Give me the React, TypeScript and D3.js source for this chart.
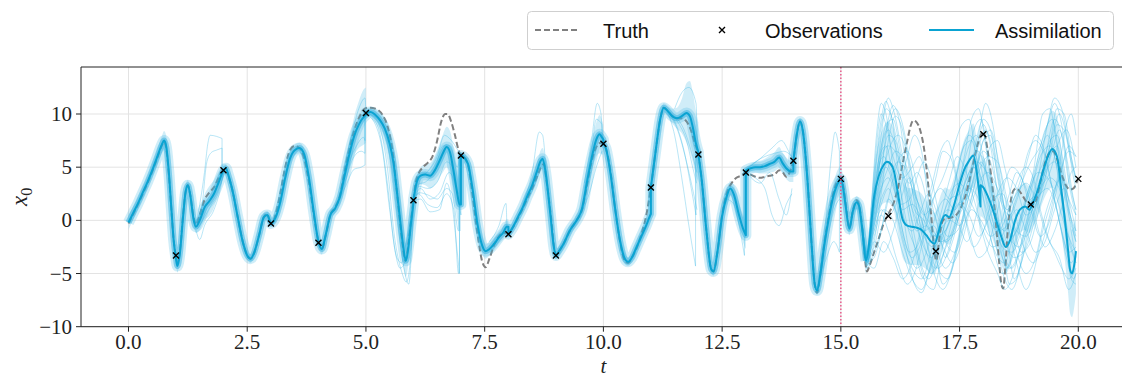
import React from 'react';
import * as d3 from 'd3';

type P2 = [number, number];
type P3 = [number, number, number];

const X_TICKS = [0, 2.5, 5, 7.5, 10, 12.5, 15, 17.5, 20];
const Y_TICKS = [-10, -5, 0, 5, 10];
const OBS_TIMES = [1, 2, 3, 4, 5, 6, 7, 8, 9, 10, 11, 12, 13, 14, 15, 16, 17, 18, 19, 20];
const OBS_VALUES = [-3.3, 4.7, -0.3, -2.1, 10.1, 1.9, 6.1, -1.3, -3.3, 7.2, 3.1, 6.2, 4.5, 5.6, 3.9, 0.4, -2.9, 8.1, 1.5, 3.9];
const FORECAST_START = 15;

const TRUTH: P2[] = [
  [0, -0.3], [0.1, 0.6], [0.2, 1.5], [0.3, 2.5], [0.4, 3.5], [0.5, 4.6], [0.6, 5.8], [0.7, 7.0], [0.75, 7.4], [0.8, 6.6],
  [0.85, 4.3], [0.9, 1.2], [0.95, -1.8], [1.0, -3.4], [1.03, -4.0], [1.08, -3.0], [1.15, 0.5], [1.2, 2.6], [1.25, 3.3], [1.3, 2.4],
  [1.37, 0.3], [1.42, -0.4], [1.5, 0.5], [1.6, 1.9], [1.7, 2.6], [1.8, 3.1], [1.9, 4.0], [2.0, 4.8], [2.05, 4.8], [2.1, 4.2],
  [2.2, 2.6], [2.3, 0.3], [2.4, -1.9], [2.5, -3.3], [2.57, -3.6], [2.65, -3.0], [2.75, -1.4], [2.85, 0.3], [2.92, 0.6], [2.98, 0.0],
  [3.05, 0.0], [3.1, 0.6], [3.2, 2.6], [3.3, 5.0], [3.4, 6.6], [3.5, 7.0], [3.6, 6.8], [3.7, 5.8], [3.8, 3.6], [3.9, 0.6],
  [4.0, -2.0], [4.07, -2.7], [4.15, -1.5], [4.25, 0.5], [4.35, 1.2], [4.45, 2.3], [4.55, 4.6], [4.65, 6.7], [4.75, 8.4], [4.85, 9.6],
  [4.95, 10.4], [5.05, 10.6], [5.2, 10.5], [5.35, 9.9], [5.45, 8.9], [5.55, 6.8], [5.65, 2.8], [5.75, -1.5], [5.83, -3.8], [5.9, -2.0],
  [5.95, 0.0], [6.0, 1.9], [6.05, 3.6], [6.1, 4.3], [6.2, 5.0], [6.3, 5.4], [6.4, 6.0], [6.5, 7.5], [6.58, 9.2], [6.67, 10.0],
  [6.72, 10.0], [6.8, 9.2], [6.88, 7.9], [6.95, 6.6], [7.0, 6.1], [7.05, 6.0], [7.15, 5.2], [7.25, 2.2], [7.35, -1.3], [7.45, -3.9],
  [7.52, -4.4], [7.6, -3.6], [7.7, -2.3], [7.8, -1.5], [7.9, -1.2], [8.0, -1.2], [8.1, -0.6], [8.2, 0.2], [8.3, 1.1], [8.4, 2.1],
  [8.5, 3.0], [8.6, 4.1], [8.7, 5.1], [8.75, 5.3], [8.8, 3.8], [8.9, 0.2], [8.97, -2.8], [9.0, -3.3], [9.05, -3.0], [9.15, -2.3],
  [9.3, -0.9], [9.45, 0.1], [9.55, 1.0], [9.65, 3.2], [9.75, 5.5], [9.85, 6.9], [9.95, 7.3], [10.0, 7.2], [10.05, 6.8], [10.15, 4.6],
  [10.25, 1.0], [10.35, -2.0], [10.45, -3.8], [10.52, -4.0], [10.6, -3.5], [10.7, -2.6], [10.8, -1.3], [10.9, 0.4], [11.0, 3.1], [11.1, 6.5],
  [11.2, 9.6], [11.27, 10.6], [11.35, 10.3], [11.45, 9.8], [11.55, 9.6], [11.65, 9.6], [11.75, 9.3], [11.85, 8.4], [11.93, 7.2], [12.0, 6.2],
  [12.07, 3.8], [12.17, -1.0], [12.27, -4.6], [12.32, -4.8], [12.4, -3.0], [12.5, 0.5], [12.6, 2.6], [12.7, 3.5], [12.8, 4.0], [12.9, 4.2],
  [13.0, 4.5], [13.1, 4.3], [13.2, 4.1], [13.3, 4.0], [13.4, 4.1], [13.5, 4.2], [13.6, 4.3], [13.7, 4.7], [13.78, 4.5], [13.85, 4.1],
  [13.93, 4.6], [14.0, 5.6], [14.07, 8.0], [14.14, 9.3], [14.2, 8.4], [14.3, 3.6], [14.38, -2.0], [14.45, -6.0], [14.5, -6.8], [14.57, -5.0],
  [14.65, -2.2], [14.75, 0.5], [14.85, 2.7], [14.95, 3.8], [15.0, 3.9], [15.05, 3.2], [15.1, 1.6], [15.18, -0.7], [15.25, 0.8], [15.33, 1.9],
  [15.38, 1.5], [15.45, -0.7], [15.5, -3.2], [15.55, -4.8], [15.6, -4.3], [15.7, -3.0], [15.8, -1.7], [15.9, -0.3], [16.0, 0.6], [16.1, 1.5],
  [16.2, 3.0], [16.3, 5.3], [16.4, 7.5], [16.47, 8.9], [16.53, 9.4], [16.6, 9.2], [16.67, 8.5], [16.75, 6.8], [16.83, 3.8], [16.9, 0.5],
  [16.96, -2.5], [17.01, -3.8], [17.05, -2.6], [17.1, -0.8], [17.17, 0.1], [17.25, 0.2], [17.35, 0.3], [17.45, 0.6], [17.55, 1.4], [17.65, 2.7],
  [17.75, 4.6], [17.85, 6.6], [17.93, 7.9], [18.0, 8.3], [18.05, 7.6], [18.12, 5.7], [18.2, 2.8], [18.27, -0.5], [18.33, -3.8], [18.38, -6.0],
  [18.42, -6.4], [18.46, -4.6], [18.52, -0.6], [18.58, 1.9], [18.65, 2.9], [18.7, 3.0], [18.8, 2.5], [18.9, 1.8], [19.0, 1.4], [19.1, 1.8],
  [19.2, 3.6], [19.3, 5.4], [19.4, 6.4], [19.47, 6.5], [19.55, 5.8], [19.65, 4.3], [19.75, 3.2], [19.82, 2.9], [19.9, 3.0], [19.95, 3.4],
  [20.0, 4.0],
];

// [t, ensemble mean, ensemble spread]; a repeated t marks an analysis update
const ASSIMILATION: P3[] = [
  [0, -0.2, 0.7], [0.1, 0.7, 0.6], [0.2, 1.6, 0.5], [0.3, 2.6, 0.5], [0.4, 3.6, 0.5], [0.5, 4.7, 0.5], [0.6, 5.9, 0.6], [0.7, 7.1, 0.8],
  [0.75, 7.5, 0.9], [0.8, 6.8, 1.0], [0.85, 4.5, 1.0], [0.9, 1.3, 0.9], [0.95, -1.8, 0.8], [1.0, -3.6, 0.7], [1.03, -4.3, 0.6], [1.08, -3.2, 0.5],
  [1.15, 0.4, 0.6], [1.2, 2.6, 0.6], [1.25, 3.3, 0.5], [1.3, 2.4, 0.5], [1.37, 0.1, 0.5], [1.42, -0.6, 0.6], [1.5, 0.0, 0.9], [1.6, 1.2, 1.2],
  [1.7, 1.8, 1.4], [1.8, 2.5, 1.3], [1.9, 3.6, 1.0], [2.0, 4.7, 0.6], [2.05, 4.9, 0.4], [2.1, 4.3, 0.4], [2.2, 2.6, 0.4], [2.3, 0.3, 0.4],
  [2.4, -1.9, 0.4], [2.5, -3.3, 0.4], [2.57, -3.6, 0.4], [2.65, -3.0, 0.4], [2.75, -1.4, 0.4], [2.85, 0.3, 0.4], [2.92, 0.5, 0.4], [2.98, -0.1, 0.4],
  [3.0, -0.3, 0.3], [3.1, 0.3, 0.4], [3.2, 1.8, 0.5], [3.3, 4.0, 0.6], [3.4, 5.8, 0.5], [3.5, 6.6, 0.5], [3.6, 6.8, 0.5], [3.7, 6.2, 0.5],
  [3.8, 4.0, 0.6], [3.9, 0.8, 0.6], [4.0, -2.0, 0.5], [4.07, -2.7, 0.5], [4.15, -1.4, 0.4], [4.25, 0.5, 0.4], [4.35, 1.1, 0.4], [4.45, 2.2, 0.6],
  [4.55, 4.2, 0.9], [4.65, 6.2, 1.3], [4.75, 7.9, 1.8], [4.85, 9.0, 2.2], [4.95, 9.7, 2.6], [5.0, 9.9, 2.6], [5.0, 10.1, 0.4], [5.1, 10.2, 0.4],
  [5.2, 9.9, 0.5], [5.3, 9.4, 0.7], [5.4, 8.6, 1.0], [5.5, 7.2, 1.4], [5.58, 5.4, 1.8], [5.65, 2.8, 2.0], [5.72, 0.0, 2.0], [5.78, -2.3, 1.8],
  [5.84, -3.8, 1.5], [5.9, -2.3, 1.5], [5.95, -0.2, 1.4], [6.0, 1.6, 1.2], [6.0, 1.9, 0.4], [6.07, 3.6, 0.6], [6.15, 4.2, 0.8], [6.25, 4.3, 1.0],
  [6.35, 4.2, 1.2], [6.45, 4.7, 1.4], [6.55, 5.6, 1.6], [6.63, 6.4, 1.8], [6.7, 6.9, 1.9], [6.77, 6.4, 2.0], [6.85, 4.5, 2.2], [6.92, 2.6, 2.4],
  [6.97, 1.5, 2.5], [7.0, 1.5, 2.5], [7.0, 6.1, 0.3], [7.05, 6.0, 0.3], [7.15, 5.3, 0.4], [7.25, 2.8, 0.6], [7.35, -0.4, 0.8], [7.45, -2.4, 0.8],
  [7.52, -2.9, 0.7], [7.6, -2.7, 0.6], [7.7, -2.2, 0.6], [7.8, -1.6, 0.6], [7.9, -1.1, 0.6], [7.96, -0.6, 0.7], [8.0, -0.6, 0.7], [8.0, -1.3, 0.3],
  [8.1, -0.6, 0.3], [8.2, 0.3, 0.3], [8.3, 1.2, 0.4], [8.4, 2.3, 0.5], [8.5, 3.3, 0.6], [8.6, 4.6, 0.8], [8.68, 5.6, 1.0], [8.72, 5.8, 1.0],
  [8.78, 4.6, 1.0], [8.88, 0.7, 0.8], [8.96, -2.6, 0.5], [9.0, -3.3, 0.4], [9.05, -3.0, 0.4], [9.15, -2.3, 0.4], [9.3, -0.9, 0.4], [9.45, 0.1, 0.4],
  [9.55, 1.1, 0.6], [9.65, 3.5, 0.9], [9.75, 5.8, 1.3], [9.85, 7.6, 1.6], [9.92, 8.1, 1.8], [9.97, 7.8, 1.6], [10.0, 7.6, 1.4], [10.0, 7.2, 0.3],
  [10.05, 6.8, 0.3], [10.15, 4.4, 0.4], [10.25, 1.0, 0.5], [10.35, -1.9, 0.5], [10.45, -3.6, 0.5], [10.52, -3.9, 0.4], [10.6, -3.5, 0.4], [10.7, -2.5, 0.4],
  [10.8, -1.5, 0.4], [10.9, -0.5, 0.4], [10.97, 0.3, 0.4], [11.0, 0.6, 0.4], [11.0, 3.1, 0.3], [11.1, 6.5, 0.4], [11.2, 9.6, 0.4], [11.27, 10.6, 0.4],
  [11.35, 10.3, 0.5], [11.45, 9.8, 0.7], [11.55, 9.6, 1.0], [11.65, 9.8, 1.6], [11.75, 10.1, 2.8], [11.82, 9.8, 3.3], [11.88, 8.8, 3.3], [11.95, 7.2, 3.0],
  [12.0, 6.4, 2.8], [12.0, 6.2, 0.4], [12.07, 3.8, 0.5], [12.17, -1.0, 0.5], [12.27, -4.6, 0.4], [12.32, -4.8, 0.4], [12.4, -3.0, 0.4], [12.5, 0.4, 0.5],
  [12.6, 2.3, 0.6], [12.67, 3.0, 0.7], [12.75, 2.4, 0.9], [12.85, 0.6, 1.1], [12.95, -0.9, 1.3], [13.0, -1.4, 1.3], [13.0, 4.7, 0.3], [13.1, 4.9, 0.4],
  [13.2, 5.0, 0.5], [13.3, 5.0, 0.6], [13.4, 5.1, 0.7], [13.5, 5.3, 0.8], [13.6, 5.5, 0.9], [13.7, 5.9, 1.0], [13.77, 5.4, 1.0], [13.85, 4.9, 1.0],
  [13.95, 4.6, 1.0], [14.0, 4.6, 1.0], [14.0, 5.6, 0.3], [14.07, 8.0, 0.3], [14.14, 9.3, 0.3], [14.2, 8.4, 0.3], [14.3, 3.6, 0.3], [14.38, -2.0, 0.3],
  [14.45, -6.0, 0.3], [14.5, -6.6, 0.4], [14.57, -5.0, 0.6], [14.65, -2.4, 0.8], [14.75, 0.3, 1.0], [14.85, 2.4, 1.2], [14.95, 3.6, 1.3], [15.0, 3.9, 1.2],
  [15.05, 3.0, 1.0], [15.1, 1.4, 0.8], [15.18, -0.8, 0.6], [15.25, 0.8, 0.6], [15.33, 1.7, 0.6], [15.38, 1.4, 0.7], [15.45, -0.8, 0.9], [15.53, -3.8, 1.2],
  [15.6, -2.0, 1.8], [15.7, 2.2, 2.6], [15.8, 4.2, 3.2], [15.9, 5.2, 3.6], [15.97, 5.5, 3.8], [16.05, 5.3, 3.8], [16.12, 4.6, 3.8], [16.2, 2.6, 3.7],
  [16.3, 0.1, 3.6], [16.4, -0.5, 3.6], [16.5, -0.6, 3.6], [16.6, -0.7, 3.5], [16.7, -0.9, 3.4], [16.8, -1.4, 3.2], [16.9, -2.0, 3.0], [16.97, -2.2, 2.9],
  [17.05, -1.2, 2.8], [17.12, -0.1, 2.7], [17.2, 0.5, 2.6], [17.28, 0.3, 2.6], [17.38, 1.4, 2.6], [17.5, 3.4, 2.7], [17.6, 4.8, 2.8], [17.7, 5.6, 2.9],
  [17.79, 6.1, 3.0], [17.86, 4.6, 3.0], [17.94, 1.3, 3.0], [17.94, 3.3, 2.9], [18.0, 3.1, 2.9], [18.1, 2.2, 2.8], [18.2, 1.0, 2.8], [18.3, -0.4, 2.7],
  [18.39, -1.7, 2.6], [18.47, -2.5, 2.5], [18.56, -1.9, 2.4], [18.67, 0.0, 2.3], [18.77, 1.0, 2.2], [18.88, 1.3, 2.2], [18.97, 1.0, 2.2], [19.05, 1.7, 2.3],
  [19.15, 2.9, 2.5], [19.25, 4.5, 2.8], [19.35, 5.9, 3.2], [19.45, 6.7, 3.6], [19.55, 6.0, 3.8], [19.65, 2.6, 3.9], [19.72, 0.0, 3.9], [19.78, -2.6, 4.0],
  [19.83, -4.7, 4.1], [19.87, -5.0, 4.1], [19.91, -4.3, 4.0], [19.95, -2.9, 4.0],
];

// free-running ensemble members after the last analysis
const MEMBERS: P2[][] = [
  [[15.45, -0.5], [15.55, -3.5], [15.7, 1.5], [15.85, 8.0], [15.95, 10.5], [16.05, 10.0], [16.2, 5.0], [16.4, -2.0], [16.6, -4.5], [16.8, -3.0], [17.0, 0.5], [17.2, 2.0], [17.4, 1.0], [17.6, 3.5], [17.8, 8.5], [17.95, 9.5], [18.1, 6.0], [18.3, -1.0], [18.5, -4.5], [18.7, -2.0], [18.9, 2.0], [19.1, 5.0], [19.3, 8.5], [19.45, 9.5], [19.6, 6.0], [19.8, 1.0], [19.95, -1.0]],
  [[15.45, -1.0], [15.55, -4.2], [15.7, -2.0], [15.85, 2.5], [16.0, 7.5], [16.15, 9.8], [16.3, 8.5], [16.5, 3.0], [16.7, -2.5], [16.9, -5.0], [17.05, -4.0], [17.25, -0.5], [17.45, 1.5], [17.65, 2.0], [17.85, 4.5], [18.0, 7.5], [18.15, 8.0], [18.3, 4.0], [18.5, -1.5], [18.65, -5.5], [18.8, -4.0], [19.0, 0.5], [19.2, 3.0], [19.4, 4.5], [19.6, 7.5], [19.75, 8.5], [19.95, 5.0]],
  [[15.45, -0.8], [15.55, -3.8], [15.7, -4.5], [15.9, -2.0], [16.1, -3.5], [16.3, -5.5], [16.5, -4.0], [16.7, -0.5], [16.9, 3.0], [17.1, 6.5], [17.25, 7.5], [17.4, 5.0], [17.6, 0.5], [17.8, -2.5], [18.0, -1.0], [18.2, 2.0], [18.4, 2.5], [18.6, 0.0], [18.8, -3.0], [19.0, -2.0], [19.2, 1.5], [19.4, 4.0], [19.6, 3.0], [19.8, -1.5], [19.95, -4.0]],
  [[15.45, -0.6], [15.55, -3.2], [15.7, 0.5], [15.85, 5.0], [16.0, 8.0], [16.15, 7.5], [16.3, 4.5], [16.45, 3.5], [16.6, 4.5], [16.75, 3.0], [16.9, -1.0], [17.1, -5.0], [17.25, -5.5], [17.45, -2.5], [17.65, 2.0], [17.85, 6.5], [18.0, 9.0], [18.15, 7.0], [18.35, 1.0], [18.5, -2.0], [18.7, -1.0], [18.85, 1.5], [19.05, 4.5], [19.25, 10.0], [19.4, 10.5], [19.55, 7.0], [19.75, 1.5], [19.95, -2.0]],
  [[15.45, -0.9], [15.55, -4.0], [15.7, -0.5], [15.85, 3.5], [16.0, 5.5], [16.2, 4.0], [16.4, -0.5], [16.6, -3.0], [16.8, -6.0], [16.95, -6.5], [17.1, -4.0], [17.3, -1.5], [17.5, 1.0], [17.7, 4.0], [17.85, 5.5], [18.0, 5.0], [18.2, 3.0], [18.4, -2.0], [18.55, -6.0], [18.7, -5.5], [18.9, -1.0], [19.1, 3.5], [19.3, 6.0], [19.5, 9.5], [19.65, 8.0], [19.8, 3.5], [19.95, 0.5]],
  [[15.45, -0.7], [15.55, -3.6], [15.7, 2.5], [15.85, 7.0], [16.0, 9.0], [16.15, 10.5], [16.3, 9.0], [16.45, 5.5], [16.6, 2.0], [16.75, 0.5], [16.9, 1.0], [17.05, -0.5], [17.2, -3.5], [17.35, -2.0], [17.55, 1.5], [17.7, 3.0], [17.9, 2.0], [18.05, 0.0], [18.25, -3.0], [18.45, -4.0], [18.6, -2.0], [18.8, 0.5], [19.0, 3.0], [19.2, 6.5], [19.35, 8.0], [19.5, 6.0], [19.7, 0.0], [19.85, -5.5], [19.95, -6.0]],
  [[15.45, -0.4], [15.55, -3.0], [15.7, -1.0], [15.85, 1.0], [16.0, 0.5], [16.2, 2.0], [16.4, 6.0], [16.55, 8.0], [16.7, 6.5], [16.85, 1.5], [17.0, -3.0], [17.15, -6.0], [17.3, -5.0], [17.5, -1.0], [17.7, 3.5], [17.85, 7.5], [18.0, 9.5], [18.15, 8.5], [18.35, 3.5], [18.5, 0.0], [18.7, -4.0], [18.9, -6.5], [19.05, -5.0], [19.25, -1.0], [19.45, 2.0], [19.65, 5.0], [19.8, 7.0], [19.95, 6.0]],
  [[15.45, -1.1], [15.55, -4.5], [15.7, -3.0], [15.9, 0.0], [16.05, 3.0], [16.25, 6.0], [16.4, 6.5], [16.6, 3.5], [16.8, 0.0], [17.0, -1.5], [17.2, -1.0], [17.4, 1.5], [17.6, 6.0], [17.75, 9.5], [17.9, 10.5], [18.05, 7.0], [18.25, 0.5], [18.45, -3.5], [18.6, -4.5], [18.8, -2.5], [19.0, 0.0], [19.15, 2.0], [19.35, 3.0], [19.55, 1.0], [19.75, -3.5], [19.9, -5.5], [19.95, -5.0]],
  [[15.45, -0.5], [15.55, -3.4], [15.7, 1.0], [15.85, 6.0], [16.0, 7.0], [16.2, 6.0], [16.35, 2.5], [16.55, -2.5], [16.75, -5.5], [16.9, -4.5], [17.1, -1.0], [17.3, 0.0], [17.5, -0.5], [17.7, 1.5], [17.9, 4.5], [18.1, 6.0], [18.3, 5.5], [18.5, 2.0], [18.7, -1.0], [18.9, -1.5], [19.1, 1.0], [19.3, 5.0], [19.45, 8.0], [19.6, 10.0], [19.75, 8.0], [19.9, 4.0], [19.95, 3.0]],
  [[15.45, -0.8], [15.55, -3.9], [15.7, -1.5], [15.85, 0.5], [16.0, -1.0], [16.2, -4.0], [16.4, -6.0], [16.55, -5.0], [16.75, -1.5], [16.95, 2.0], [17.15, 4.0], [17.35, 6.5], [17.55, 9.0], [17.7, 9.5], [17.85, 6.0], [18.0, 2.0], [18.2, -2.5], [18.4, -5.0], [18.55, -4.0], [18.75, -0.5], [18.95, 2.5], [19.15, 4.5], [19.35, 4.0], [19.55, 2.0], [19.75, -1.0], [19.95, -3.0]],
  [[15.45, -0.6], [15.55, -3.3], [15.7, 0.0], [15.85, 3.0], [16.0, 4.0], [16.15, 2.5], [16.3, 1.0], [16.5, 1.5], [16.7, 0.0], [16.9, -3.5], [17.05, -4.5], [17.25, -3.0], [17.45, 0.5], [17.65, 4.0], [17.8, 5.0], [17.95, 3.0], [18.1, 0.5], [18.3, -1.0], [18.5, 0.5], [18.7, 3.5], [18.9, 5.0], [19.05, 4.0], [19.2, 1.0], [19.4, -2.0], [19.6, -3.5], [19.8, -6.5], [19.95, -5.0]],
  [[15.45, -1.0], [15.55, -4.1], [15.7, 0.5], [15.85, 4.5], [16.0, 9.5], [16.1, 10.8], [16.25, 9.0], [16.4, 4.0], [16.55, 1.0], [16.75, 0.0], [16.95, -1.5], [17.15, 0.5], [17.3, 2.0], [17.5, 2.5], [17.7, 4.5], [17.9, 7.0], [18.05, 8.5], [18.2, 6.5], [18.4, 2.0], [18.6, -1.5], [18.8, 0.0], [19.0, 2.0], [19.2, 2.5], [19.4, 6.0], [19.55, 9.0], [19.7, 8.5], [19.85, 5.5], [19.95, 4.0]],
  [[15.45, -0.7], [15.55, -3.7], [15.7, -2.5], [15.9, 1.0], [16.1, 0.0], [16.3, -3.0], [16.5, -5.5], [16.7, -6.5], [16.9, -4.0], [17.1, -0.5], [17.3, 2.5], [17.5, 3.5], [17.7, 2.0], [17.9, 0.0], [18.1, -3.0], [18.3, -5.0], [18.45, -6.5], [18.6, -5.5], [18.8, -2.0], [19.0, 1.5], [19.2, 4.0], [19.4, 7.5], [19.55, 8.0], [19.7, 5.0], [19.85, 0.0], [19.95, -2.0]],
  [[15.45, -0.9], [15.55, -3.6], [15.7, 3.0], [15.85, 6.5], [15.95, 7.0], [16.1, 4.0], [16.3, 0.5], [16.5, -1.0], [16.65, 0.5], [16.85, 2.5], [17.0, 1.0], [17.2, -2.0], [17.4, -3.0], [17.6, -0.5], [17.75, 2.0], [17.95, 5.5], [18.1, 4.0], [18.3, 0.0], [18.45, -1.0], [18.65, 1.5], [18.85, 4.0], [19.0, 5.5], [19.2, 7.0], [19.35, 9.0], [19.5, 11.0], [19.65, 9.0], [19.8, 4.0], [19.95, 1.0]],
  [[15.45, -0.6], [15.55, -3.0], [15.65, 2.0], [15.75, 8.0], [15.85, 11.0], [15.95, 10.0], [16.1, 5.0], [16.3, -1.0], [16.5, -3.5], [16.7, -2.0], [16.9, 1.5], [17.1, 3.0], [17.3, 2.0], [17.5, 4.0], [17.7, 7.0], [17.85, 8.0], [18.0, 6.0], [18.2, 1.0], [18.4, -2.5], [18.6, -3.0], [18.8, -1.0], [19.0, 2.5], [19.2, 6.0], [19.4, 7.0], [19.55, 5.0], [19.75, -1.0], [19.95, -4.0]],
  [[15.45, -0.8], [15.55, -3.5], [15.65, 1.0], [15.75, 6.0], [15.85, 9.5], [15.95, 11.2], [16.05, 10.0], [16.2, 7.0], [16.4, 2.0], [16.6, -1.0], [16.8, -0.5], [17.0, -2.5], [17.2, -4.5], [17.4, -3.0], [17.6, 0.5], [17.8, 4.0], [18.0, 6.5], [18.15, 5.5], [18.35, 2.0], [18.55, 0.5], [18.75, 2.5], [18.95, 6.0], [19.1, 8.0], [19.25, 7.0], [19.45, 3.0], [19.65, -1.0], [19.8, -3.0], [19.95, -2.5]],
  [[15.45, -0.9], [15.55, -3.9], [15.7, -3.5], [15.85, -1.0], [16.0, 2.0], [16.15, 1.0], [16.35, -2.5], [16.55, -6.0], [16.7, -6.8], [16.85, -5.0], [17.05, -1.0], [17.25, 1.0], [17.45, 0.0], [17.65, -2.0], [17.85, 0.5], [18.0, 4.0], [18.15, 7.0], [18.3, 7.5], [18.45, 5.0], [18.65, 1.0], [18.85, -2.5], [19.05, -4.0], [19.25, -2.0], [19.45, 1.5], [19.6, 5.0], [19.75, 9.0], [19.85, 10.0], [19.95, 8.0]],
  [[15.45, -0.7], [15.55, -3.4], [15.65, 0.5], [15.75, 4.0], [15.9, 6.0], [16.05, 4.5], [16.25, 0.0], [16.45, -3.0], [16.6, -2.5], [16.8, 0.5], [17.0, 4.0], [17.15, 6.5], [17.3, 6.0], [17.5, 2.5], [17.7, -1.0], [17.9, -3.5], [18.05, -3.0], [18.25, 0.0], [18.45, 3.5], [18.6, 5.0], [18.8, 4.0], [19.0, 1.0], [19.2, -1.5], [19.4, 0.0], [19.6, 4.0], [19.8, 6.5], [19.95, 6.0]],
  [[15.45, -1.0], [15.55, -4.3], [15.65, -1.0], [15.8, 5.0], [15.95, 9.0], [16.1, 9.5], [16.25, 6.5], [16.45, 1.0], [16.65, -3.5], [16.85, -5.5], [17.05, -3.0], [17.25, 1.0], [17.45, 4.5], [17.6, 7.0], [17.75, 7.5], [17.9, 5.0], [18.1, 1.0], [18.3, -3.0], [18.45, -5.5], [18.6, -6.5], [18.8, -4.0], [19.0, -0.5], [19.2, 3.0], [19.4, 6.0], [19.55, 7.0], [19.7, 4.0], [19.85, -1.0], [19.95, -3.5]],
  [[15.45, -0.5], [15.55, -3.1], [15.7, -0.5], [15.85, 2.0], [16.0, 3.5], [16.2, 5.5], [16.35, 5.0], [16.5, 3.0], [16.7, 1.0], [16.9, -0.5], [17.1, -2.0], [17.3, -1.5], [17.5, 0.5], [17.7, 3.0], [17.9, 8.0], [18.05, 11.0], [18.2, 9.0], [18.35, 4.0], [18.55, -1.5], [18.75, -2.5], [18.95, 0.0], [19.15, 2.5], [19.3, 4.5], [19.5, 5.5], [19.7, 3.0], [19.85, 0.0], [19.95, -1.5]],
  [[15.45, -0.8], [15.55, -3.7], [15.65, -0.5], [15.75, 3.0], [15.9, 7.5], [16.0, 8.5], [16.15, 7.0], [16.35, 3.5], [16.55, 0.5], [16.75, -1.0], [16.95, -0.5], [17.15, -2.5], [17.35, -4.0], [17.55, -2.0], [17.75, 1.5], [17.9, 3.5], [18.1, 4.5], [18.3, 3.0], [18.5, 1.0], [18.7, 2.5], [18.9, 3.5], [19.1, 2.0], [19.3, -1.0], [19.5, -3.0], [19.65, -4.5], [19.8, -5.5], [19.95, -4.5]],
  [[15.45, -0.6], [15.55, -3.3], [15.7, 0.0], [15.85, 4.0], [16.0, 6.5], [16.2, 8.0], [16.35, 7.0], [16.5, 4.0], [16.65, 0.0], [16.8, -3.0], [17.0, -4.5], [17.2, -2.5], [17.4, 1.0], [17.55, 3.5], [17.75, 6.0], [17.9, 6.5], [18.05, 4.5], [18.25, 1.0], [18.45, -2.0], [18.65, -3.5], [18.85, -3.0], [19.05, -0.5], [19.25, 3.5], [19.4, 7.0], [19.55, 10.5], [19.7, 10.0], [19.85, 6.0], [19.95, 3.5]],
  [[15.45, -0.9], [15.55, -3.8], [15.7, -2.0], [15.9, -3.0], [16.1, -1.0], [16.3, 2.5], [16.45, 4.0], [16.6, 2.0], [16.8, -2.0], [17.0, -5.5], [17.15, -6.5], [17.35, -4.5], [17.55, -1.0], [17.75, 1.0], [17.95, 0.0], [18.15, -1.5], [18.35, -0.5], [18.55, 2.5], [18.7, 4.5], [18.9, 3.0], [19.1, 0.0], [19.3, -2.5], [19.5, -1.0], [19.7, 2.0], [19.85, 4.5], [19.95, 5.0]],
  [[15.45, -0.7], [15.55, -3.5], [15.65, 1.5], [15.75, 7.0], [15.85, 10.0], [15.95, 9.0], [16.1, 6.0], [16.3, 4.0], [16.5, 5.0], [16.65, 6.0], [16.8, 4.0], [17.0, 0.0], [17.2, -2.0], [17.4, -1.0], [17.6, 2.5], [17.8, 5.0], [17.95, 4.0], [18.1, 1.5], [18.3, -1.0], [18.5, -0.5], [18.7, 1.0], [18.9, -1.0], [19.1, -3.0], [19.3, -2.0], [19.5, 1.0], [19.7, 3.0], [19.85, 1.0], [19.95, -1.0]],
  [[15.45, -1.0], [15.55, -4.0], [15.7, -1.0], [15.85, 1.5], [16.0, 3.0], [16.15, 1.0], [16.3, -2.0], [16.5, -4.5], [16.7, -5.5], [16.9, -3.0], [17.1, 0.5], [17.3, 4.0], [17.45, 6.0], [17.6, 5.0], [17.8, 2.0], [18.0, -1.0], [18.2, -2.5], [18.4, -1.5], [18.6, 1.5], [18.8, 4.0], [18.95, 6.5], [19.1, 7.5], [19.3, 6.0], [19.5, 2.0], [19.7, -2.0], [19.85, -4.0], [19.95, -3.0]],
  [[15.45, -0.5], [15.55, -3.2], [15.65, 0.0], [15.8, 3.5], [15.95, 5.0], [16.1, 3.5], [16.25, 1.5], [16.45, 2.0], [16.6, 4.0], [16.75, 5.5], [16.9, 4.0], [17.05, 1.0], [17.25, -1.5], [17.45, -1.0], [17.65, 1.5], [17.85, 5.0], [18.0, 7.5], [18.15, 8.5], [18.3, 6.0], [18.5, 1.0], [18.7, -3.0], [18.9, -5.0], [19.1, -3.5], [19.3, 0.5], [19.5, 3.0], [19.65, 4.0], [19.8, 2.0], [19.95, 0.5]],
  [[15.45, -0.8], [15.55, -3.6], [15.65, 0.5], [15.75, 5.5], [15.9, 10.0], [16.0, 11.5], [16.1, 10.5], [16.3, 6.0], [16.5, 1.0], [16.7, -2.0], [16.9, -3.5], [17.1, -2.0], [17.3, 0.0], [17.5, 1.5], [17.7, 0.5], [17.9, -1.5], [18.1, 0.0], [18.3, 2.5], [18.5, 4.0], [18.7, 3.0], [18.9, 0.5], [19.1, 1.5], [19.3, 4.0], [19.45, 6.5], [19.6, 8.5], [19.75, 6.0], [19.9, 2.0], [19.95, 1.0]],
  [[15.45, -0.6], [15.55, -3.4], [15.7, -0.5], [15.85, 3.0], [16.0, 5.0], [16.15, 6.5], [16.35, 5.5], [16.55, 2.0], [16.75, -1.5], [16.95, -2.5], [17.15, -1.0], [17.35, 2.5], [17.55, 6.5], [17.7, 8.0], [17.85, 7.0], [18.0, 4.0], [18.2, 0.0], [18.4, -3.5], [18.55, -4.5], [18.75, -3.0], [18.95, 0.5], [19.15, 4.0], [19.35, 9.0], [19.5, 11.5], [19.65, 10.5], [19.8, 7.0], [19.95, 4.0]],
];

// ensemble members that stray from the bundle during the assimilation period
const STRAY_MEMBERS: P2[][] = [
  [[1.42, -0.4], [1.5, 1.5], [1.6, 4.5], [1.67, 7.2], [1.72, 8.0], [1.85, 7.9], [1.97, 7.7], [1.97, 5.0]],
  [[1.42, -0.3], [1.55, 1.5], [1.65, 5.5], [1.75, 6.4], [1.85, 6.6], [1.97, 6.8], [1.97, 5.0]],
  [[1.45, -0.8], [1.6, 0.3], [1.75, 1.5], [1.9, 2.7], [2.0, 4.5]],
  [[1.42, -0.9], [1.5, -1.8], [1.6, -0.5], [1.8, 1.0], [1.95, 3.3], [2.0, 4.6]],
  [[4.45, 2.0], [4.6, 3.5], [4.75, 4.8], [4.9, 5.0], [4.98, 5.2], [4.98, 10.0]],
  [[4.45, 2.1], [4.6, 4.2], [4.75, 6.0], [4.9, 6.5], [4.98, 6.3], [4.98, 10.0]],
  [[4.45, 2.2], [4.65, 5.5], [4.8, 7.0], [4.95, 7.8], [4.98, 7.5], [4.98, 10.0]],
  [[4.5, 3.5], [4.7, 8.0], [4.85, 10.5], [4.98, 11.5], [5.0, 10.2]],
  [[5.0, 10.0], [5.2, 9.0], [5.35, 6.5], [5.5, 1.0], [5.65, -3.5], [5.75, -4.0], [5.85, -2.0], [6.0, 1.5]],
  [[5.0, 10.1], [5.25, 9.2], [5.45, 5.0], [5.6, -1.5], [5.75, -4.8], [5.85, -5.8], [5.95, -3.0], [6.0, 1.8]],
  [[5.0, 10.0], [5.15, 9.6], [5.3, 8.0], [5.45, 3.5], [5.6, -2.5], [5.72, -4.5], [5.85, -3.5], [6.0, 1.7]],
  [[5.0, 10.1], [5.3, 9.3], [5.45, 7.5], [5.55, 4.0], [5.7, -1.5], [5.8, -4.5], [5.9, -6.0], [6.0, 1.9]],
  [[6.0, 1.9], [6.1, 2.5], [6.3, 1.5], [6.5, 1.2], [6.7, 2.5], [6.85, 1.0], [6.95, -5.0], [6.97, -4.0], [6.97, 6.0]],
  [[6.0, 1.9], [6.15, 3.0], [6.35, 2.0], [6.55, 2.6], [6.75, 4.5], [6.9, 3.0], [7.0, 0.5], [7.0, 6.0]],
  [[6.0, 1.9], [6.1, 3.8], [6.3, 4.6], [6.5, 6.0], [6.65, 8.0], [6.8, 7.5], [6.95, 6.5], [7.0, 6.2]],
  [[6.0, 1.8], [6.15, 2.0], [6.35, 0.8], [6.55, 1.0], [6.7, 3.5], [6.8, 2.0], [6.9, -2.0], [6.97, -5.0], [6.97, 6.0]],
  [[6.0, 1.9], [6.12, 3.2], [6.3, 3.0], [6.5, 3.6], [6.7, 5.5], [6.85, 4.8], [6.95, 2.5], [6.97, 6.1]],
  [[6.0, 1.9], [6.1, 3.4], [6.25, 3.6], [6.45, 4.8], [6.62, 7.0], [6.78, 7.0], [6.92, 5.0], [6.98, 6.1]],
  [[6.0, 1.8], [6.12, 2.6], [6.3, 2.4], [6.5, 2.0], [6.7, 3.0], [6.82, 2.5], [6.95, -1.0], [6.97, 6.0]],
  [[7.6, -2.0], [7.8, -0.5], [7.95, 1.6], [7.97, -1.2]],
  [[8.3, 1.5], [8.5, 4.5], [8.65, 8.3], [8.72, 8.0], [8.8, 4.5], [8.9, 0.5]],
  [[9.6, 3.5], [9.75, 7.5], [9.87, 11.0], [9.95, 10.0], [9.98, 7.3]],
  [[9.6, 3.0], [9.75, 6.5], [9.85, 9.5], [9.97, 9.0], [9.98, 7.3]],
  [[9.5, 0.5], [9.7, 2.5], [9.85, 5.0], [9.97, 6.5]],
  [[11.35, 10.2], [11.5, 8.0], [11.65, 4.0], [11.8, -0.5], [11.94, -4.3], [11.94, 6.2]],
  [[11.4, 10.0], [11.6, 8.0], [11.75, 5.5], [11.9, 2.5], [11.97, 1.0]],
  [[11.5, 9.8], [11.7, 8.5], [11.85, 6.5], [11.97, 4.5]],
  [[11.5, 10.5], [11.65, 12.0], [11.8, 12.5], [11.95, 11.0], [11.98, 6.4]],
  [[11.45, 9.9], [11.6, 9.0], [11.75, 7.5], [11.88, 5.0], [11.96, 3.5]],
  [[11.4, 10.1], [11.55, 8.8], [11.7, 6.5], [11.85, 3.0], [11.95, 0.5], [11.95, 6.2]],
  [[12.6, 2.0], [12.75, 1.5], [12.9, -1.5], [12.97, -3.3], [12.97, 4.7]],
  [[13.0, 4.7], [13.2, 5.5], [13.4, 6.0], [13.6, 6.3], [13.8, 6.5], [13.97, 6.0]],
  [[13.0, 4.7], [13.2, 4.0], [13.4, 3.0], [13.55, 0.5], [13.7, -0.5], [13.85, 1.5], [13.97, 2.5]],
  [[13.0, 4.6], [13.3, 3.5], [13.5, 4.5], [13.7, 2.0], [13.85, 0.5], [13.97, 3.0]],
  [[13.0, 4.8], [13.3, 5.8], [13.55, 6.8], [13.75, 7.5], [13.9, 6.5], [13.98, 5.8]],
  [[14.5, -6.3], [14.65, -1.5], [14.8, 6.0], [14.88, 8.3], [14.97, 6.5], [14.97, 4.0]],
  [[14.5, -6.5], [14.7, -3.5], [14.85, -2.0], [14.97, -3.0], [14.97, 3.9]],
  [[14.5, -6.4], [14.65, -3.5], [14.8, 0.0], [14.9, 1.5], [14.97, 2.0]],
];

function splitAtJumps<T extends number[]>(pts: T[]): T[][] {
  const segs: T[][] = [];
  let cur: T[] = [];
  pts.forEach((p, i) => {
    if (i > 0 && p[0] === pts[i - 1][0]) {
      segs.push(cur);
      cur = [];
    }
    cur.push(p);
  });
  segs.push(cur);
  return segs;
}

const MEAN_COLOR = '#0aa3d2';
const MEMBER_COLOR = '#3fb9e5';

export default function App() {
  const W = 1122;
  const H = 377;
  const left = 81;
  const right = 1125.8;
  const top = 67;
  const bottom = 326.7;
  const x = d3.scaleLinear().domain([-1, 21]).range([left, right]);
  const y = d3.scaleLinear().domain([-10, 14.42]).range([bottom, top]);

  const line = d3
    .line<number[]>()
    .x((d) => x(d[0]))
    .y((d) => y(d[1]))
    .curve(d3.curveMonotoneX);

  const joined = (pts: number[][]) =>
    splitAtJumps(pts)
      .map((s, i) => {
        if (s.length === 1) return `${i === 0 ? 'M' : 'L'}${x(s[0][0])},${y(s[0][1])}`;
        const d = line(s) ?? '';
        return i === 0 ? d : 'L' + d.slice(1);
      })
      .join('');

  const area = d3
    .area<P3>()
    .x((d) => x(d[0]))
    .y0((d) => y(d[1] - d[2]))
    .y1((d) => y(d[1] + d[2]))
    .curve(d3.curveMonotoneX);

  const bandPaths = splitAtJumps(ASSIMILATION).map((s) => area(s) ?? '');
  const meanPath = joined(ASSIMILATION);
  const bundlePath = joined(ASSIMILATION.filter((d) => d[0] <= 15.55));
  const truthPath = line(TRUTH) ?? '';

  const tickFont = "'Liberation Serif', 'Times New Roman', serif";
  const legendFont = "'Liberation Sans', Arial, sans-serif";
  const xMark = (cx: number, cy: number, r: number) =>
    `M${cx - r},${cy - r}L${cx + r},${cy + r}M${cx - r},${cy + r}L${cx + r},${cy - r}`;

  return (
    <svg
      width={W}
      height={H}
      style={{ position: 'absolute', left: 0, top: 0, display: 'block', background: '#fff' }}
    >
      <defs>
        <clipPath id="plotClip">
          <rect x={left} y={top} width={right - left} height={bottom - top} />
        </clipPath>
      </defs>
      <rect x={0} y={0} width={W} height={H} fill="#fff" />

      {/* grid */}
      <g stroke="#e3e3e3" strokeWidth={1}>
        {X_TICKS.map((t) => (
          <line key={'gx' + t} x1={x(t)} x2={x(t)} y1={top} y2={bottom} />
        ))}
        {Y_TICKS.map((v) => (
          <line key={'gy' + v} x1={left} x2={right} y1={y(v)} y2={y(v)} />
        ))}
      </g>

      <g clipPath="url(#plotClip)">
        {bandPaths.map((d, i) => (
          <path key={'band' + i} d={d} fill="#a9def2" fillOpacity={0.55} stroke="none" />
        ))}
        <path d={truthPath} fill="none" stroke="#808080" strokeWidth={2} strokeDasharray="6,3" />
        {MEMBERS.map((m, i) => (
          <path key={'m' + i} d={joined(m)} fill="none" stroke={MEMBER_COLOR} strokeOpacity={0.4} strokeWidth={0.9} />
        ))}
        {STRAY_MEMBERS.map((m, i) => (
          <path key={'s' + i} d={joined(m)} fill="none" stroke={MEMBER_COLOR} strokeOpacity={0.4} strokeWidth={0.9} />
        ))}
        <path d={bundlePath} fill="none" stroke={MEMBER_COLOR} strokeOpacity={0.25} strokeWidth={11} strokeLinejoin="round" />
        <path d={bundlePath} fill="none" stroke="#2fb0df" strokeOpacity={0.5} strokeWidth={6} strokeLinejoin="round" />
        <path d={meanPath} fill="none" stroke={MEAN_COLOR} strokeWidth={2} strokeLinejoin="round" />
        {OBS_TIMES.map((t, i) => (
          <path key={'o' + t} d={xMark(x(t), y(OBS_VALUES[i]), 3)} stroke="#000" strokeWidth={1.4} fill="none" />
        ))}
        <line
          x1={x(FORECAST_START)}
          x2={x(FORECAST_START)}
          y1={top}
          y2={bottom}
          stroke="#e8457d"
          strokeWidth={1.3}
          strokeDasharray="1.5,2"
        />
      </g>

      {/* spines */}
      <g stroke="#222" strokeWidth={1} fill="none">
        <line x1={left} x2={left} y1={top} y2={bottom} />
        <line x1={left} x2={right} y1={top} y2={top} />
        <line x1={left} x2={right} y1={bottom} y2={bottom} />
        <line x1={right} x2={right} y1={top} y2={bottom} />
      </g>

      {/* ticks */}
      <g fontFamily={tickFont} fontSize={21} fill="#222">
        {X_TICKS.map((t) => (
          <g key={'xt' + t}>
            <line x1={x(t)} x2={x(t)} y1={bottom} y2={bottom + 5} stroke="#222" />
            <text x={x(t)} y={348.5} textAnchor="middle">
              {d3.format('.1f')(t)}
            </text>
          </g>
        ))}
        {Y_TICKS.map((v) => (
          <g key={'yt' + v}>
            <line x1={left - 5} x2={left} y1={y(v)} y2={y(v)} stroke="#222" />
            <text x={left - 9} y={y(v) + 7} textAnchor="end">
              {v < 0 ? '\u2212' + Math.abs(v) : String(v)}
            </text>
          </g>
        ))}
      </g>

      {/* axis labels */}
      <text x={(left + right) / 2} y={372.5} textAnchor="middle" fontFamily={tickFont} fontStyle="italic" fontSize={21} fill="#222">
        t
      </text>
      <text
        transform={`translate(27, ${(top + bottom) / 2}) rotate(-90)`}
        textAnchor="middle"
        fontFamily={tickFont}
        fontSize={23}
        fill="#222"
      >
        <tspan fontStyle="italic">x</tspan>
        <tspan fontSize={16} dy={5}>0</tspan>
      </text>

      {/* legend */}
      <g>
        <rect x={527.5} y={11.5} width={586} height={38} rx={4} fill="#fff" fillOpacity={0.8} stroke="#cfcfcf" />
        <line x1={535} x2={580} y1={30} y2={30} stroke="#808080" strokeWidth={2} strokeDasharray="6,3" />
        <text x={603} y={38} fontFamily={legendFont} fontSize={20} fill="#111">Truth</text>
        <path d={xMark(722, 30, 3)} stroke="#000" strokeWidth={1.4} />
        <text x={765} y={38} fontFamily={legendFont} fontSize={20} fill="#111">Observations</text>
        <line x1={929} x2={974} y1={30} y2={30} stroke={MEAN_COLOR} strokeWidth={2} />
        <text x={995} y={38} fontFamily={legendFont} fontSize={20} fill="#111">Assimilation</text>
      </g>
    </svg>
  );
}
